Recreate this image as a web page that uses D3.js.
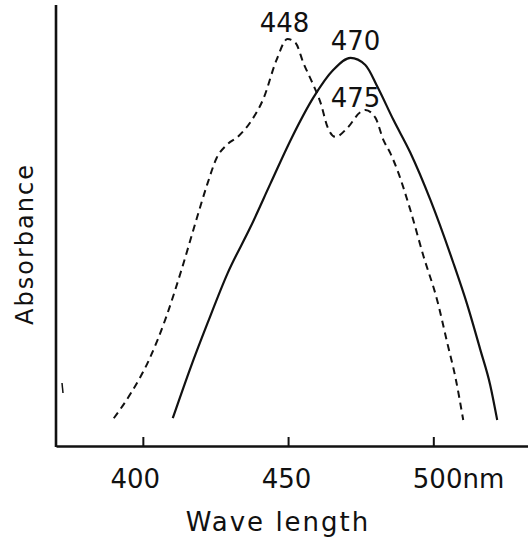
<!DOCTYPE html>
<html><head><meta charset="utf-8">
<script src="https://cdn.jsdelivr.net/npm/d3@7"></script>
<style>html,body{margin:0;padding:0;background:#fff;}svg{display:block;}text{font-family:"DejaVu Sans",sans-serif;fill:#111;}</style>
</head><body>
<script>
// Dashed spectrum (peaks 448 and 475)
const dashedNm = [390.0,395.9,402.1,407.9,413.1,418.2,422.3,425.4,428.9,433.0,437.1,441.6,446.0,449.8,452.6,455.3,458.4,461.2,463.6,466.3,470.4,474.9,476.6,480.1,482.8,485.2,487.6,492.1,496.6,501.4,504.8,507.6,510.3];
const dashedAbs = [0.063,0.120,0.195,0.290,0.395,0.508,0.596,0.653,0.683,0.703,0.735,0.789,0.875,0.923,0.914,0.868,0.823,0.778,0.723,0.701,0.721,0.757,0.762,0.744,0.694,0.664,0.626,0.535,0.431,0.329,0.234,0.156,0.059];
// Solid spectrum (peak 470)
const solidNm = [410.3,416.5,422.3,429.2,437.1,444.0,450.9,458.8,465.6,471.5,476.6,480.8,486.3,492.1,499.0,506.9,511.7,516.2,519.6,522.0];
const solidAbs = [0.063,0.179,0.279,0.392,0.497,0.596,0.694,0.791,0.853,0.880,0.864,0.814,0.739,0.665,0.558,0.415,0.320,0.218,0.138,0.059];
// Axis ticks
const tickValues = [400,450,500];
const tickLabels = ["400","450","500nm"];
// Peak annotations
const annText = ["448","470","475"];
const annNm = [448.8,473.2,473.2];
const annAbs = [0.939,0.898,0.769];

const W = 528, H = 541;
const svg = d3.select("body").append("svg").attr("width",W).attr("height",H);
const x = d3.scaleLinear().domain([370.1,532.6]).range([56,528]);
const y = d3.scaleLinear().domain([0,1]).range([446,5]);

// axes
svg.append("line").attr("x1",56).attr("x2",56).attr("y1",y(1)).attr("y2",y(0)+1)
  .attr("stroke","#111").attr("stroke-width",2.6);
const xAxis = d3.axisBottom(x).tickValues(tickValues).tickSizeInner(-9).tickSizeOuter(0)
  .tickFormat((d,i)=>tickLabels[i]);
const gx = svg.append("g").attr("transform",`translate(0,${y(0)})`).call(xAxis);
gx.select(".domain").attr("stroke","#111").attr("stroke-width",2.6);
gx.selectAll(".tick line").attr("stroke","#111").attr("stroke-width",2);
const offs = [-8,-2,-21];
gx.selectAll(".tick text").attr("fill","#111").attr("font-size",26)
  .attr("font-family","DejaVu Sans, sans-serif")
  .attr("y",0).attr("dy",42).attr("dx",(d,i)=>offs[i])
  .attr("text-anchor",(d,i)=>i===2?"start":"middle");

// curves
const line = d3.line().x(d=>x(d[0])).y(d=>y(d[1])).curve(d3.curveMonotoneX);
svg.append("path").datum(dashedNm.map((n,i)=>[n,dashedAbs[i]]))
  .attr("d",line).attr("fill","none").attr("stroke","#111").attr("stroke-width",2)
  .attr("stroke-dasharray","7,5");
svg.append("path").datum(solidNm.map((n,i)=>[n,solidAbs[i]]))
  .attr("d",line).attr("fill","none").attr("stroke","#111").attr("stroke-width",2.2);

// annotations
svg.selectAll("text.ann").data(annText).enter().append("text").attr("class","ann")
  .attr("x",(d,i)=>x(annNm[i])).attr("y",(d,i)=>y(annAbs[i]))
  .attr("text-anchor","middle").attr("font-size",26).text(d=>d);

// axis titles
svg.append("text").attr("x",(188+368)/2).attr("y",531).attr("text-anchor","middle")
  .attr("font-size",26).attr("letter-spacing",2).text("Wave length");
svg.append("text").attr("transform","translate(33,244) rotate(-90)").attr("text-anchor","middle")
  .attr("font-size",24).attr("letter-spacing",2).text("Absorbance");

// stray mark near the axis
svg.append("line").attr("x1",62).attr("x2",63).attr("y1",383).attr("y2",393)
  .attr("stroke","#111").attr("stroke-width",1.5);
</script>
</body></html>
